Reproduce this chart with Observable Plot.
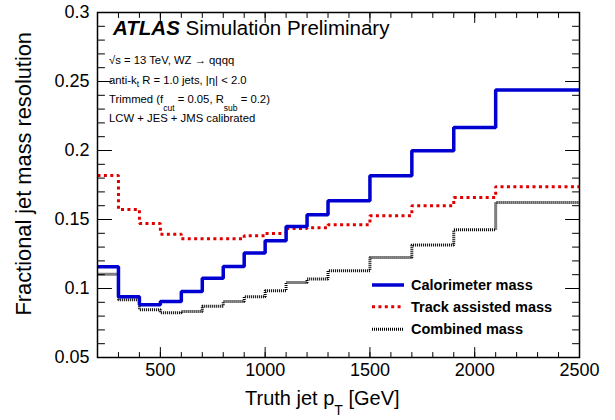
<!DOCTYPE html>
<html><head><meta charset="utf-8">
<script src="https://cdn.jsdelivr.net/npm/d3@7"></script>
<script src="https://cdn.jsdelivr.net/npm/@observablehq/plot@0.6"></script>
<style>
body{margin:0;background:#fff}
#chart{position:relative;width:615px;height:420px}
#chart svg{display:block}
.note{position:absolute;white-space:nowrap;font-family:'Liberation Sans',Arial,Helvetica,sans-serif;color:#000;line-height:1}
.sub{position:relative}
</style>
</head><body><div id="chart"></div>
<script>
// ---- data ----
const binEdges = [200,300,400,500,600,700,800,900,1000,1100,1200,1300,1500,1700,1900,2100,2500];
const calorimeterMass   = [0.1157,0.0940,0.0882,0.0906,0.0978,0.1075,0.1160,0.1257,0.1346,0.1449,0.1534,0.1636,0.1817,0.1998,0.2167,0.2438];
const trackAssistedMass = [0.1819,0.1572,0.1471,0.1394,0.1360,0.1360,0.1360,0.1382,0.1399,0.1435,0.1440,0.1462,0.1527,0.1599,0.1659,0.1737];
const combinedMass      = [0.1104,0.0918,0.0846,0.0824,0.0833,0.0872,0.0906,0.0940,0.0983,0.1044,0.1068,0.1128,0.1225,0.1315,0.1425,0.1623];
const seriesNames = ["Calorimeter mass","Track assisted mass","Combined mass"];
const xTickValues = [500,1000,1500,2000,2500];
const xTickLabels = ["500","1000","1500","2000","2500"];
const yTickValues = [0.05,0.1,0.15,0.2,0.25,0.3];
const yTickLabels = ["0.05","0.1","0.15","0.2","0.25","0.3"];
const xMinorTicks = d3.range(200, 2501, 100);
const yMinorTicks = d3.range(5, 31, 1).map(v => v / 100);
const xDomain = [200, 2500], yDomain = [0.05, 0.3];

// ---- styles ----
const seriesStyles = [
  {stroke:"#0000d0", width:3.5, dash:null},
  {stroke:"#e00000", width:3, dash:"3,3.4"},
  {stroke:"#000000", width:3, dash:"1,1"}
];
const valuesBySeries = [calorimeterMass, trackAssistedMass, combinedMass];
const stepRows = seriesNames.flatMap((name, s) =>
  binEdges.map((e, i) => ({series:name, x:e, y:valuesBySeries[s][Math.min(i, valuesBySeries[s].length - 1)]})));

const fontStack = "'Liberation Sans', Arial, Helvetica, sans-serif";

const lineMarks = [2,1,0].map(s => Plot.line(stepRows.filter(r => r.series === seriesNames[s]), {
  x:"x", y:"y", curve:"step-after", stroke:seriesStyles[s].stroke, strokeWidth:seriesStyles[s].width,
  strokeDasharray:seriesStyles[s].dash, strokeLinecap:"butt", strokeLinejoin:"miter"
}));

const tickShape = {draw(context, l) { context.moveTo(0, 0); context.lineTo(0, -l); }};
const tk = {shape:tickShape, anchor:"start", stroke:"black", strokeWidth:1};

const chartDiv = document.getElementById("chart");
const svg = Plot.plot({
  width:615, height:420, marginLeft:97, marginRight:36, marginTop:12, marginBottom:63,
  style:{fontFamily:fontStack},
  x:{domain:xDomain, axis:null},
  y:{domain:yDomain, axis:null},
  marks:[
    ...lineMarks,
    Plot.vector(xMinorTicks, {...tk, x:d=>d, frameAnchor:"bottom", rotate:0, length:5}),
    Plot.vector(xTickValues, {...tk, x:d=>d, frameAnchor:"bottom", rotate:0, length:10}),
    Plot.vector(xMinorTicks, {...tk, x:d=>d, frameAnchor:"top", rotate:180, length:5}),
    Plot.vector(xTickValues, {...tk, x:d=>d, frameAnchor:"top", rotate:180, length:10}),
    Plot.vector(yMinorTicks, {...tk, y:d=>d, frameAnchor:"left", rotate:90, length:7}),
    Plot.vector(yTickValues, {...tk, y:d=>d, frameAnchor:"left", rotate:90, length:14}),
    Plot.vector(yMinorTicks, {...tk, y:d=>d, frameAnchor:"right", rotate:-90, length:7}),
    Plot.vector(yTickValues, {...tk, y:d=>d, frameAnchor:"right", rotate:-90, length:14}),
    Plot.frame({stroke:"black", strokeWidth:1.5}),
    Plot.text(xTickValues, {x:d=>d, text:(d,i)=>xTickLabels[i], frameAnchor:"bottom", lineAnchor:"top", dy:6, fontSize:18, fill:"black"}),
    Plot.text(yTickValues, {y:d=>d, text:(d,i)=>yTickLabels[i], frameAnchor:"left", textAnchor:"end", lineAnchor:"middle", dx:-8, fontSize:18, fill:"black"})
  ]
});
chartDiv.appendChild(svg);

// ---- axis titles (svg) ----
const g = d3.select(svg).append("g").attr("font-family", fontStack).attr("fill", "black").attr("text-anchor", "start");
const xt = g.append("text").attr("x", 245).attr("y", 405).attr("font-size", 20);
xt.append("tspan").text("Truth jet p");
xt.append("tspan").attr("dy", 10).attr("font-size", 14).text("T");
xt.append("tspan").attr("dy", -10).text(" [GeV]");
g.append("text").attr("transform", "translate(31,32) rotate(-90)").attr("text-anchor", "end")
  .attr("font-size", 21.8).text("Fractional jet mass resolution");

// ---- legend line samples (svg) ----
const legendY = [285, 306.7, 329.3];
seriesNames.forEach((name, s) => {
  g.append("line").attr("x1", 372).attr("x2", 404).attr("y1", legendY[s]).attr("y2", legendY[s])
    .attr("stroke", seriesStyles[s].stroke).attr("stroke-width", seriesStyles[s].width)
    .attr("stroke-dasharray", seriesStyles[s].dash);
});

// ---- annotation and legend labels (HTML over the chart) ----
function note(left, baseline, size, html, extraStyle) {
  const d = document.createElement("div");
  d.className = "note";
  d.style.left = left + "px";
  d.style.top = (baseline - 0.8465 * size) + "px";
  d.style.fontSize = size + "px";
  if (extraStyle) Object.assign(d.style, extraStyle);
  d.innerHTML = html;
  chartDiv.appendChild(d);
}
const sub = (t, shift, size) => `<span class="sub" style="top:${shift}px;font-size:${size}px">${t}</span>`;

note(113, 35, 20.5, `<b><i>ATLAS</i></b> Simulation Preliminary`);
note(109, 65, 11.3, `√s = 13 TeV, WZ → qqqq`);
note(109, 85, 11.3, `anti-k${sub("t", 3, 8.5)} R = 1.0 jets, |η| &lt; 2.0`);
note(109, 104, 11.3, `Trimmed (f${sub("cut", 8, 8.5)} = 0.05, R${sub("sub", 8, 8.5)} = 0.2)`);
note(109, 123, 11.3, `LCW + JES + JMS calibrated`);
seriesNames.forEach((name, s) => {
  note(411, legendY[s] + 0.36 * 14.5, 14.5, name, {fontWeight:"bold"});
});
</script>
</body></html>
